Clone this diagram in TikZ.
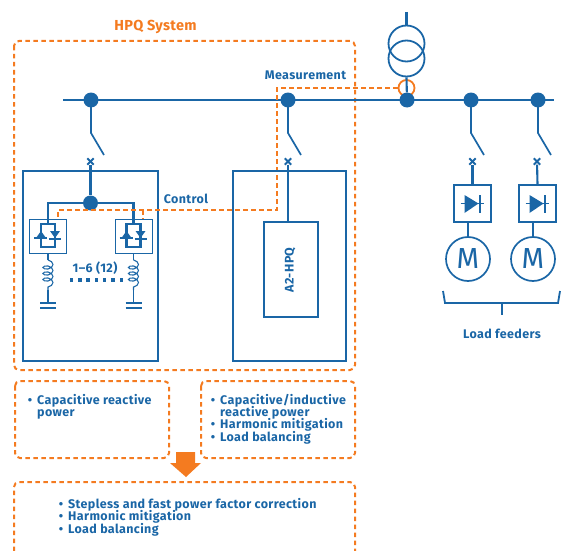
\documentclass[tikz,border=0pt]{standalone}
\usepackage{fontspec}
\setmainfont{Fira Sans}
\usetikzlibrary{decorations.pathmorphing}
\definecolor{hpqblue}{HTML}{1A66A6}
\definecolor{hpqorange}{HTML}{F47B20}
\newcommand{\hpqitem}{\llap{\textbullet\hspace{5pt}}}
\tikzset{
	wire/.style={draw=hpqblue, line width=2.1pt},
	thinwire/.style={draw=hpqblue, line width=1.1pt},
	hpqdash/.style={draw=hpqorange, line width=2pt, dash pattern=on 4.5pt off 3.5pt},
	junction/.style={circle, fill=hpqblue, inner sep=0pt, minimum size=15pt},
	hpqbox/.style={draw=hpqblue, line width=2pt, inner sep=0pt, anchor=north west},
	thybox/.style={draw=hpqblue, line width=1pt, inner sep=0pt, minimum width=37pt, minimum height=34pt},
	diodebox/.style={draw=hpqblue, line width=2pt, inner sep=0pt, minimum width=37pt, minimum height=37pt},
	motor/.style={circle, draw=hpqblue, line width=1.7pt, inner sep=0pt, minimum size=44pt, text=hpqblue, font=\fontsize{29}{29}\selectfont},
	txt/.style={text=hpqblue, font=\fontsize{12.5}{12}\selectfont\bfseries\addfontfeatures{LetterSpace=3}, inner sep=0pt},
	item/.style={txt, anchor=base west},
}
\begin{document}
\begin{tikzpicture}[x=1pt, y=-1pt]
	\useasboundingbox (0,0) rectangle (562,551);
	%hpq system frame and text boxes
	\draw[hpqdash, rounded corners=5pt] (14,41) rectangle (355,370);
	\node[txt, text=hpqorange, font=\fontsize{14.5}{14}\selectfont\bfseries\addfontfeatures{LetterSpace=2}] (title) at (155.5,27) {HPQ System};
	\draw[hpqdash, rounded corners=5pt] (15,381) rectangle (169,458);
	\draw[hpqdash, rounded corners=5pt] (201,381) rectangle (355,458);
	\draw[hpqdash, rounded corners=5pt] (14,551) -- (14,482) -- (355,482) -- (355,551);
	\fill[hpqorange] (176,452) -- (195,452) -- (195,463) -- (201,463) -- (186,477) -- (170,463) -- (176,463) -- cycle;
	\node[item] (capa) at (37,404) {\hpqitem Capacitive reactive};
	\node[item] (capb) at (37,416) {power};
	\node[item] (inda) at (220,404) {\hpqitem Capacitive/inductive};
	\node[item] (indb) at (220,416) {reactive power};
	\node[item] (indc) at (220,428) {\hpqitem Harmonic mitigation};
	\node[item] (indd) at (220,441) {\hpqitem Load balancing};
	\node[item] (resa) at (68,508) {\hpqitem Stepless and fast power factor correction};
	\node[item] (resb) at (68,520.5) {\hpqitem Harmonic mitigation};
	\node[item] (resc) at (68,533) {\hpqitem Load balancing};
	
	%current sensor, under the bus
	\node[circle, draw=hpqorange, line width=1.8pt, minimum size=16pt, inner sep=0pt] (ct) at (406.5,88) {};
	
	%bus and junctions
	\coordinate (busl) at (63,100);
	\coordinate (busr) at (554,100);
	\draw[wire] (busl) -- (busr);
	\node[junction] (jcta) at (91,100) {};
	\node[junction] (jctb) at (288,100) {};
	\node[junction] (jctc) at (407,100) {};
	\node[junction] (jctd) at (471,100) {};
	\node[junction] (jcte) at (538,100) {};
	
	%transformer
	\coordinate (feed) at (406.5,12);
	\node[circle, draw=hpqblue, line width=1.8pt, minimum size=36pt, inner sep=0pt] (tra) at (406.5,43.5) {};
	\node[circle, draw=hpqblue, line width=1.8pt, minimum size=36pt, inner sep=0pt] (trb) at (406.5,58.5) {};
	\draw[wire] (feed) -- (tra.north);
	\draw[wire] (trb.south) -- (jctc);
	
	%measurement and control
	\node[txt] (meas) at (305.5,75) {Measurement};
	\node[txt] (ctrl) at (186,199) {Control};
	
	%switches
	\foreach \x/\y/\n in {91/90.5/a, 288/288/b, 471/472.5/d, 538/537/e}{
		\draw[wire, line width=1.7pt] (\x,100) -- (\x,133) -- (\x+13,155);
		\node[inner sep=0pt, minimum size=6pt] (cross\n) at (\y,161.5) {};
		\draw[hpqblue, line width=2pt] (cross\n.north west) -- (cross\n.south east);
		\draw[hpqblue, line width=2pt] (cross\n.north east) -- (cross\n.south west);
	}
	
	%left cabinet
	\node[hpqbox, minimum width=135pt, minimum height=190pt] (cabl) at (22,170) {};
	\node[junction] (jctf) at (90.5,203) {};
	\draw[wire] (crossa) -- (jctf);
	\foreach \x/\n in {48/a, 133.5/b}{
		\node[thybox] (thy\n) at (\x,236) {};
		\draw[wire] (jctf) -| (\x,224);
		\draw[wire] (\x-7,224) rectangle (\x+7,247);
		\fill[hpqblue] (\x-7,231) -- (\x-2,238) -- (\x-12,238) -- cycle;
		\fill[hpqblue] (\x+2,231) -- (\x+12,231) -- (\x+7,238) -- cycle;
		\draw[hpqblue, line width=1.5pt] (\x-14,238) -- (\x-1,238) (\x+1,239) -- (\x+13,239);
		\draw[thinwire] (\x,253) -- (\x,260);
		\draw[thinwire, decorate, decoration={coil, aspect=0.6, segment length=6pt, amplitude=5pt}] (\x,260) -- (\x,290);
		\draw[thinwire] (\x,290) -- (\x,302);
		\draw[hpqblue, line width=1.9pt] (\x-8,303) -- (\x+8,303);
		\draw[hpqblue, line width=1.9pt] (\x-8,308) -- (\x+8,308);
	}
	\node[txt] (count) at (95,268) {1–6 (12)};
	\foreach \x in {71.5, 79.8, ..., 122}{
		\fill[hpqblue] (\x-1.7,278.3) rectangle (\x+1.7,281.7);
	}
	
	%dashed signal lines, over the cabinets
	\coordinate (mcorner) at (277,88);
	\coordinate (ccorner) at (277,210);
	\coordinate (cleft) at (58,210);
	\draw[hpqdash] (ct.west) -- (mcorner) -- (ccorner) -- (cleft) -- (thya.north -| cleft);
	\draw[hpqdash] (143,210) -- (thyb.north -| 143,210);
	
	%right cabinet
	\node[hpqbox, minimum width=113pt, minimum height=190pt] (cabr) at (232,170) {};
	\node[hpqbox, minimum width=54pt, minimum height=95pt, text=hpqblue] (ctrlbox) at (263,221) {};
	\node[txt, rotate=90] (hpq) at (290,270) {A2-HPQ};
	\draw[wire] (crossb) -- (ctrlbox.north -| crossb);
	
	%load feeders
	\foreach \x/\m/\n in {472.5/468/a, 537.5/533/b}{
		\node[diodebox] (dio\n) at (\x,203.5) {};
		\node[motor] (mot\n) at (\m,259) {M};
		\draw[wire] (\m,222) -- (mot\n.north);
		\fill[hpqblue] (\x-8,195) -- (\x+6,203.5) -- (\x-8,213) -- cycle;
		\draw[hpqblue, line width=1.7pt] (\x+7.5,195) -- (\x+7.5,213);
		\draw[hpqblue, line width=1.3pt] (\x-12,203.5) -- (\x+11,203.5);
	}
	\draw[wire] (crossd) -- (dioa.north);
	\draw[wire] (crosse) -- (diob.north);
	\coordinate (brl) at (443,291);
	\coordinate (brr) at (560,291);
	\coordinate (brs) at (502,315);
	\draw[wire, line width=1.8pt] (brl) -- (445,303) -- (558,303) -- (brr);
	\draw[wire, line width=1.8pt] (502,303) -- (brs);
	\node[txt] (load) at (502,334) {Load feeders};
\end{tikzpicture}
\end{document}
